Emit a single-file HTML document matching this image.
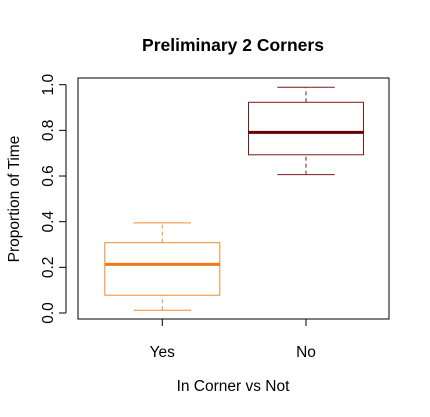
<!DOCTYPE html>
<html><head><meta charset="utf-8"><style>body{margin:0;background:#fff}svg{display:block;font-family:"Liberation Sans",Arial,sans-serif}</style></head>
<body>
<svg id="chart" width="430" height="417" viewBox="0 0 430 417" xmlns="http://www.w3.org/2000/svg">
<text x="233" y="51" font-size="17.5" font-weight="bold" text-anchor="middle">Preliminary 2 Corners</text>
<rect x="78" y="78" width="311" height="241" fill="none" stroke="#000" stroke-width="1"/>
<text x="233" y="391" font-size="15.5" text-anchor="middle">In Corner vs Not</text>
<text transform="translate(19,199) rotate(-90)" font-size="15.5" text-anchor="middle">Proportion of Time</text>
<g id="yaxis"></g><g id="xaxis"></g><g id="boxes"></g>
</svg>
<script>
const categories=["Yes","No"];
const whiskerLow=[0.012,0.606];
const q1=[0.078,0.693];
const medians=[0.213,0.791];
const q3=[0.308,0.923];
const whiskerHigh=[0.395,0.989];
const colors=["#f28a2e","#7a1a1a"];
const medColors=["#f07a1a","#6a0000"];
const yTicks=[0,0.2,0.4,0.6,0.8,1.0];
const yTickLabels=["0.0","0.2","0.4","0.6","0.8","1.0"];
const NS="http://www.w3.org/2000/svg";
const y=v=>313-v*228.3;
const x=i=>162.3+i*143.7;
function mk(tag,attrs,parent){const e=document.createElementNS(NS,tag);for(const k in attrs)e.setAttribute(k,attrs[k]);parent.appendChild(e);return e;}
const ya=document.getElementById('yaxis');
let l=mk('line',{x1:66,x2:66,y1:y(0),y2:y(1),stroke:'#000'},ya);


yTicks.forEach((t,i)=>{
 const tk=mk('line',{x1:59,x2:66,y1:y(t),y2:y(t),stroke:'#000'},ya);
 
 
 const tx=mk('text',{transform:`translate(53,${y(t)}) rotate(-90)`,'font-size':15.5,'text-anchor':'middle'},ya);
 tx.textContent=yTickLabels[i];
 
 
});
const xa=document.getElementById('xaxis');
l=mk('line',{x1:x(0),x2:x(1),y1:319,y2:319,stroke:'#000'},xa);


categories.forEach((c,i)=>{
 const tk=mk('line',{x1:x(i),x2:x(i),y1:319,y2:326,stroke:'#000'},xa);
 
 
 const tx=mk('text',{x:x(i),y:357,'font-size':15.5,'text-anchor':'middle'},xa);
 tx.textContent=c;
 
 
});
const bx=document.getElementById('boxes');
categories.forEach((c,i)=>{
 const g=mk('g',{},bx);
 
 
 const cx=x(i),hw=57.5,cw=28.7,col=colors[i];
 mk('line',{x1:cx,x2:cx,y1:y(whiskerLow[i]),y2:y(q1[i]),stroke:col,'stroke-dasharray':'4,3'},g);
 mk('line',{x1:cx,x2:cx,y1:y(q3[i]),y2:y(whiskerHigh[i]),stroke:col,'stroke-dasharray':'4,3'},g);
 mk('line',{x1:cx-cw,x2:cx+cw,y1:y(whiskerLow[i]),y2:y(whiskerLow[i]),stroke:col},g);
 mk('line',{x1:cx-cw,x2:cx+cw,y1:y(whiskerHigh[i]),y2:y(whiskerHigh[i]),stroke:col},g);
 mk('rect',{x:cx-hw,y:y(q3[i]),width:hw*2,height:y(q1[i])-y(q3[i]),fill:'none',stroke:col},g);
 mk('line',{x1:cx-hw,x2:cx+hw,y1:y(medians[i]),y2:y(medians[i]),stroke:medColors[i],'stroke-width':3},g);
});
</script>
</body></html>
